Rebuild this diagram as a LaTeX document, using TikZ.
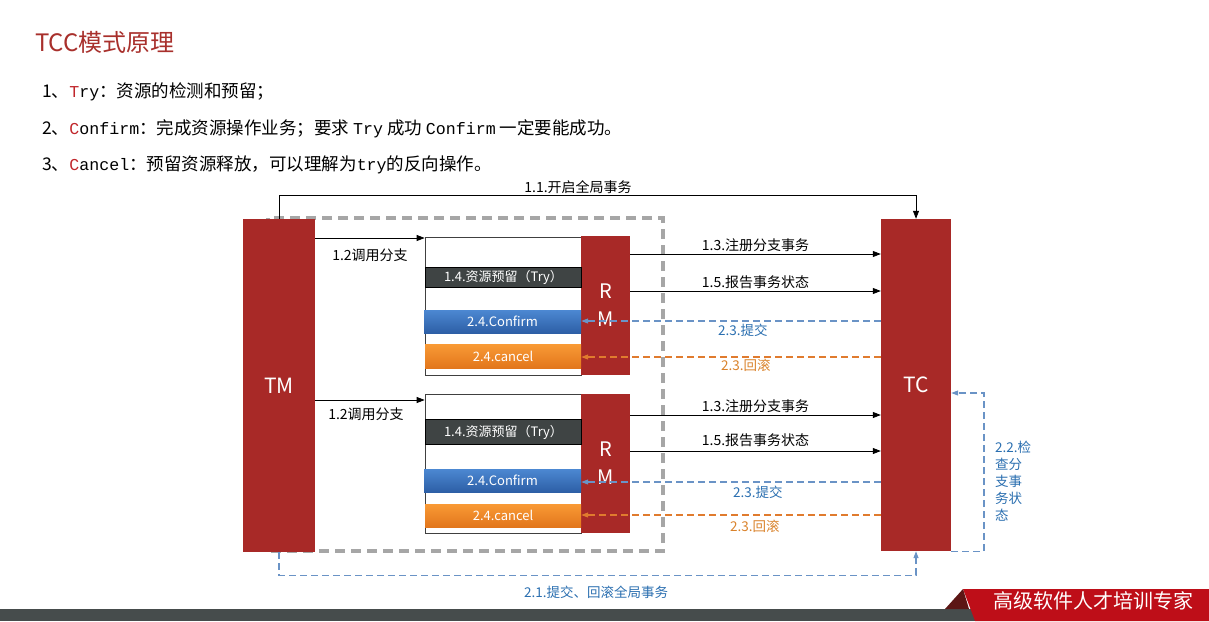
\documentclass[tikz,border=0pt]{standalone}
\usepackage{fontspec}
\setmainfont{Noto Sans CJK SC}
\setmonofont{Liberation Mono}[Scale=0.95]
\usepackage{tikz}
\usetikzlibrary{positioning, arrows.meta}
\usepackage{xcolor}

\definecolor{rmred}{HTML}{A82927}
\definecolor{titlered}{HTML}{A8302C}
\definecolor{keyred}{HTML}{C0262B}
\definecolor{trygray}{HTML}{3F4444}
\definecolor{confirmtop}{HTML}{4C88D2}
\definecolor{confirmbot}{HTML}{2D5FA6}
\definecolor{canceltop}{HTML}{F99A35}
\definecolor{cancelbot}{HTML}{E2761C}
\definecolor{dashblue}{HTML}{6A93C6}
\definecolor{lblblue}{HTML}{2B6FB0}
\definecolor{dashorange}{HTML}{E07B2E}
\definecolor{lblorange}{HTML}{D9822B}
\definecolor{framegray}{HTML}{A6A6A6}
\definecolor{bargray}{HTML}{464C4C}
\definecolor{bannerred}{HTML}{BE0E18}

\begin{document}
\begin{tikzpicture}[x=1pt, y=-1pt,
    redbox/.style={fill=rmred, text=white, inner sep=0pt},
    branchbox/.style={draw=black!75, line width=0.7pt, fill=white, minimum width=156pt, minimum height=138pt, inner sep=0pt},
    barbox/.style={minimum width=156pt, inner sep=0pt, text=white, font=\fontsize{13}{15}\selectfont},
    confirmbar/.style={barbox, top color=confirmtop, bottom color=confirmbot, minimum width=157pt},
    cancelbar/.style={barbox, top color=canceltop, bottom color=cancelbot},
    arr/.style={black, line width=0.8pt, -{Triangle[length=8pt, width=6pt]}},
    lbl/.style={font=\fontsize{14}{16}\selectfont, inner sep=0pt},
    commit/.style={dashblue, line width=1.1pt, dash pattern=on 7pt off 4pt, -{Triangle[length=7pt, width=5pt]}},
    rollback/.style={dashorange, line width=1.1pt, dash pattern=on 7pt off 4pt, -{Triangle[length=7pt, width=5pt]}},
    intro/.style={anchor=west, inner sep=0pt, font=\fontsize{17.5}{20}\selectfont}
]
    \useasboundingbox (0,0) rectangle (1209,621);

    % Title and the three phases
    \node[anchor=west, inner sep=0pt, text=titlered, font=\fontsize{24}{28}\selectfont] (title) at (35,42) {TCC模式原理};
    \node[intro] (phaseTry) at (42,92) {1、\texttt{\color{keyred}T}\texttt{ry}：资源的检测和预留；};
    \node[intro] (phaseConfirm) at (42,129) {2、\texttt{\color{keyred}C}\texttt{onfirm}：完成资源操作业务；要求 \texttt{Try} 成功 \texttt{Confirm} 一定要能成功。};
    \node[intro] (phaseCancel) at (42,165) {3、\texttt{\color{keyred}C}\texttt{ancel}：预留资源释放，可以理解为\texttt{try}的反向操作。};

    % Dashed frame round the branches
    \draw[framegray, line width=3.5pt, dash pattern=on 10pt off 6pt] (268,218) rectangle (663,551);

    % TM and TC
    \node[redbox, minimum width=72pt, minimum height=333pt, font=\fontsize{21}{24}\selectfont] (TM) at (279,385.5) {TM};
    \node[redbox, minimum width=70pt, minimum height=332pt, font=\fontsize{21}{24}\selectfont] (TC) at (916,385) {TC};

    % First branch
    \node[branchbox] (boxA) at (503,306) {};
    \node[redbox, minimum width=49pt, minimum height=139pt, align=center, font=\fontsize{20}{28}\selectfont] (rmA) at (605.5,305.5) {R\\M};
    \node[barbox, fill=trygray, draw=black, minimum height=20pt] (tryA) at (503.5,277) {1.4.资源预留（Try）};
    \node[confirmbar, minimum height=23pt] (confA) at (502.5,321.5) {2.4.Confirm};
    \node[cancelbar, minimum height=24pt] (cancA) at (503,356) {2.4.cancel};

    % Second branch
    \node[branchbox, minimum height=139pt] (boxB) at (503,463.5) {};
    \node[redbox, minimum width=49pt, minimum height=139pt, align=center, font=\fontsize{20}{28}\selectfont] (rmB) at (605.5,463.5) {R\\M};
    \node[barbox, fill=trygray, draw=black, minimum height=25pt] (tryB) at (503.5,432) {1.4.资源预留（Try）};
    \node[confirmbar, minimum height=23pt] (confB) at (502.5,480.5) {2.4.Confirm};
    \node[cancelbar, minimum height=23pt] (cancB) at (503,515.5) {2.4.cancel};

    % 1.1 open the global transaction
    \draw[arr] (TM.north) -- ++(0,-23) -| (TC.north);
    \node[lbl] (openLbl) at (578,187) {1.1.开启全局事务};

    % TM calls the branches
    \draw[arr] (TM.east |- 0,238) -- (boxA.west |- 0,238);
    \node[lbl] (callA) at (370,255) {1.2调用分支};
    \draw[arr] (TM.east |- 0,400) -- (boxB.west |- 0,400);
    \node[lbl] (callB) at (366,414) {1.2调用分支};

    % Branches report to TC
    \draw[arr] (rmA.east |- 0,254) -- (TC.west |- 0,254) node[lbl, midway, above=1.5pt] (regA) {1.3.注册分支事务};
    \draw[arr] (rmA.east |- 0,291) -- (TC.west |- 0,291) node[lbl, midway, above=2pt] (repA) {1.5.报告事务状态};
    \draw[arr] (rmB.east |- 0,415) -- (TC.west |- 0,415) node[lbl, midway, above=1.5pt] (regB) {1.3.注册分支事务};
    \draw[arr] (rmB.east |- 0,451) -- (TC.west |- 0,451) node[lbl, midway, above=4pt] (repB) {1.5.报告事务状态};

    % TC commits or rolls back each branch
    \draw[commit] (TC.west |- 0,321) -- (confA.east |- 0,321) node[lbl, pos=0.46, below=2.5pt, text=lblblue, font=\fontsize{13.5}{15}\selectfont] (comA) {2.3.提交};
    \draw[rollback] (TC.west |- 0,357) -- (cancA.east |- 0,357) node[lbl, pos=0.45, below=2pt, text=lblorange, font=\fontsize{13.5}{15}\selectfont] (rbA) {2.3.回滚};
    \draw[commit] (TC.west |- 0,482) -- (confB.east |- 0,482) node[lbl, pos=0.41, below=3pt, text=lblblue, font=\fontsize{13.5}{15}\selectfont] (comB) {2.3.提交};
    \draw[rollback] (TC.west |- 0,515) -- (cancB.east |- 0,515) node[lbl, pos=0.42, below=5pt, text=lblorange, font=\fontsize{13.5}{15}\selectfont] (rbB) {2.3.回滚};

    % 2.2 TC checks the branch states
    \coordinate (checkTop) at (984,393);
    \draw[commit] (TC.south east) -| (checkTop) -- (TC.east |- checkTop);
    \node[anchor=north west, inner sep=0pt, align=left, text=lblblue, font=\fontsize{13.5}{17}\selectfont] (checkLbl) at (995,441) {2.2.检\\查分\\支事\\务状\\态};

    % 2.1 TM commits or rolls back the global transaction
    \draw[commit] (TM.south) -- ++(0,23) -| (TC.south);
    \node[lbl, text=lblblue, font=\fontsize{13.5}{15}\selectfont] (globalLbl) at (596,592) {2.1.提交、回滚全局事务};

    % Footer
    \fill[bargray] (0,609) rectangle (1209,621);
    \fill[bannerred] (963,589) -- (1209,589) -- (1209,621) -- (975,621) -- cycle;
    \fill[rmred!55!black] (945,609) -- (963,589) -- (969,609) -- cycle;
    \node[inner sep=0pt, text=white, font=\fontsize{20}{22}\selectfont] (slogan) at (1093,601) {高级软件人才培训专家};
\end{tikzpicture}
\end{document}
